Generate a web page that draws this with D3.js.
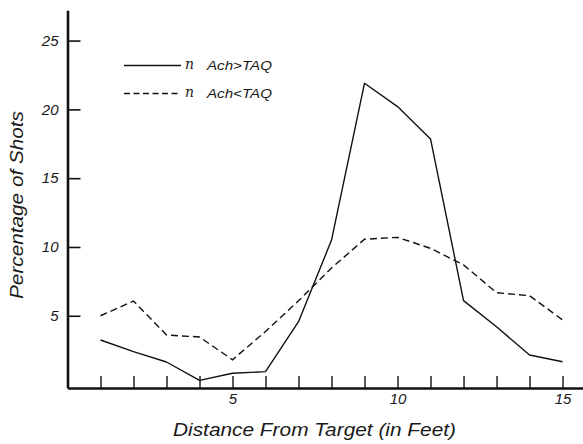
<!DOCTYPE html>
<html>
<head>
<meta charset="utf-8">
<script src="https://cdn.jsdelivr.net/npm/d3@7/dist/d3.min.js"></script>
<style>
  html, body { margin: 0; padding: 0; background: #fff; }
  svg { display: block; }
  text { font-family: "Liberation Sans", Arial, Helvetica, sans-serif; font-style: italic; fill: #1a1a1a; }
</style>
</head>
<body>
<svg id="chart" width="583" height="444"></svg>
<script>
// Distance from target (feet) and percentage of shots per group
const distances = [1, 2, 3, 4, 5, 6, 7, 8, 9, 10, 11, 12, 13, 14, 15];
const achAbove = [3.24, 2.39, 1.64, 0.3, 0.82, 0.94, 4.57, 10.5, 21.9, 20.2, 17.85, 6.1, 4.2, 2.15, 1.66];
const achBelow = [5.0, 6.07, 3.6, 3.46, 1.8, 3.86, 6.09, 8.47, 10.56, 10.7, 9.9, 8.7, 6.68, 6.46, 4.7];
const yTicks = [5, 10, 15, 20, 25];
const xLabelled = [5, 10, 15];
const seriesNames = ["Ach>TAQ", "Ach<TAQ"];

const svg = d3.select("#chart");

const x = d3.scaleLinear().domain([0, 15.62]).range([67.5, 583]);
const y = d3.scaleLinear().domain([-0.25, 27.2]).range([388, 10.3]);

// Y axis: ticks pointing into the plot, labels on the left
const yAxis = svg.append("g")
  .attr("transform", `translate(${x(0)},0)`)
  .call(d3.axisLeft(y).tickValues(yTicks).tickSize(-13).tickSizeOuter(0).tickPadding(9));
yAxis.select(".domain").attr("stroke", "#111").attr("stroke-width", 2.6);
yAxis.selectAll(".tick line").attr("stroke", "#111").attr("stroke-width", 1.6);
yAxis.selectAll(".tick text").attr("font-size", 15).attr("font-family", null).attr("fill", "#1a1a1a");

// X axis: a tick at every foot, upward, labels every five feet
const xAxis = svg.append("g")
  .attr("transform", `translate(0,${y.range()[0]})`)
  .call(d3.axisBottom(x).tickValues(distances).tickSize(-12).tickSizeOuter(0).tickPadding(5)
    .tickFormat(d => xLabelled.includes(d) ? d : ""));
xAxis.select(".domain").attr("stroke", "#111").attr("stroke-width", 2.6);
xAxis.selectAll(".tick line").attr("stroke", "#111").attr("stroke-width", 1.4);
xAxis.selectAll(".tick text").attr("font-size", 15).attr("font-family", null).attr("fill", "#1a1a1a");

// Data lines
const line = d3.line().x((d, i) => x(distances[i])).y(d => y(d));
svg.append("path").datum(achAbove)
  .attr("d", line).attr("fill", "none").attr("stroke", "#111").attr("stroke-width", 1.4)
  .attr("stroke-linejoin", "round");
svg.append("path").datum(achBelow)
  .attr("d", line).attr("fill", "none").attr("stroke", "#111").attr("stroke-width", 1.4)
  .attr("stroke-dasharray", "7,4");

// Legend
const legend = svg.append("g");
const rows = [
  { name: seriesNames[0], dash: null, ly: 65.5 },
  { name: seriesNames[1], dash: "6,3.5", ly: 93.5 }
];
rows.forEach(r => {
  legend.append("line")
    .attr("x1", 124).attr("x2", 181).attr("y1", r.ly).attr("y2", r.ly)
    .attr("stroke", "#111").attr("stroke-width", 1.3)
    .attr("stroke-dasharray", r.dash);
  legend.append("text")
    .attr("x", 185).attr("y", r.ly + 3.5)
    .attr("font-size", 14)
    .style("font-family", "'DejaVu Serif', serif")
    .text("n");
  legend.append("text")
    .attr("x", 207).attr("y", r.ly + 4.5)
    .attr("font-size", 13)
    .attr("textLength", 65).attr("lengthAdjust", "spacingAndGlyphs")
    .text(r.name);
});

// Axis titles
svg.append("text")
  .attr("transform", "translate(22.5,205) rotate(-90)")
  .attr("text-anchor", "middle")
  .attr("font-size", 17.5)
  .attr("textLength", 188).attr("lengthAdjust", "spacingAndGlyphs")
  .text("Percentage of Shots");

svg.append("text")
  .attr("x", 314.5).attr("y", 436)
  .attr("text-anchor", "middle")
  .attr("font-size", 17.5)
  .attr("textLength", 283).attr("lengthAdjust", "spacingAndGlyphs")
  .text("Distance From Target (in Feet)");
</script>
</body>
</html>
